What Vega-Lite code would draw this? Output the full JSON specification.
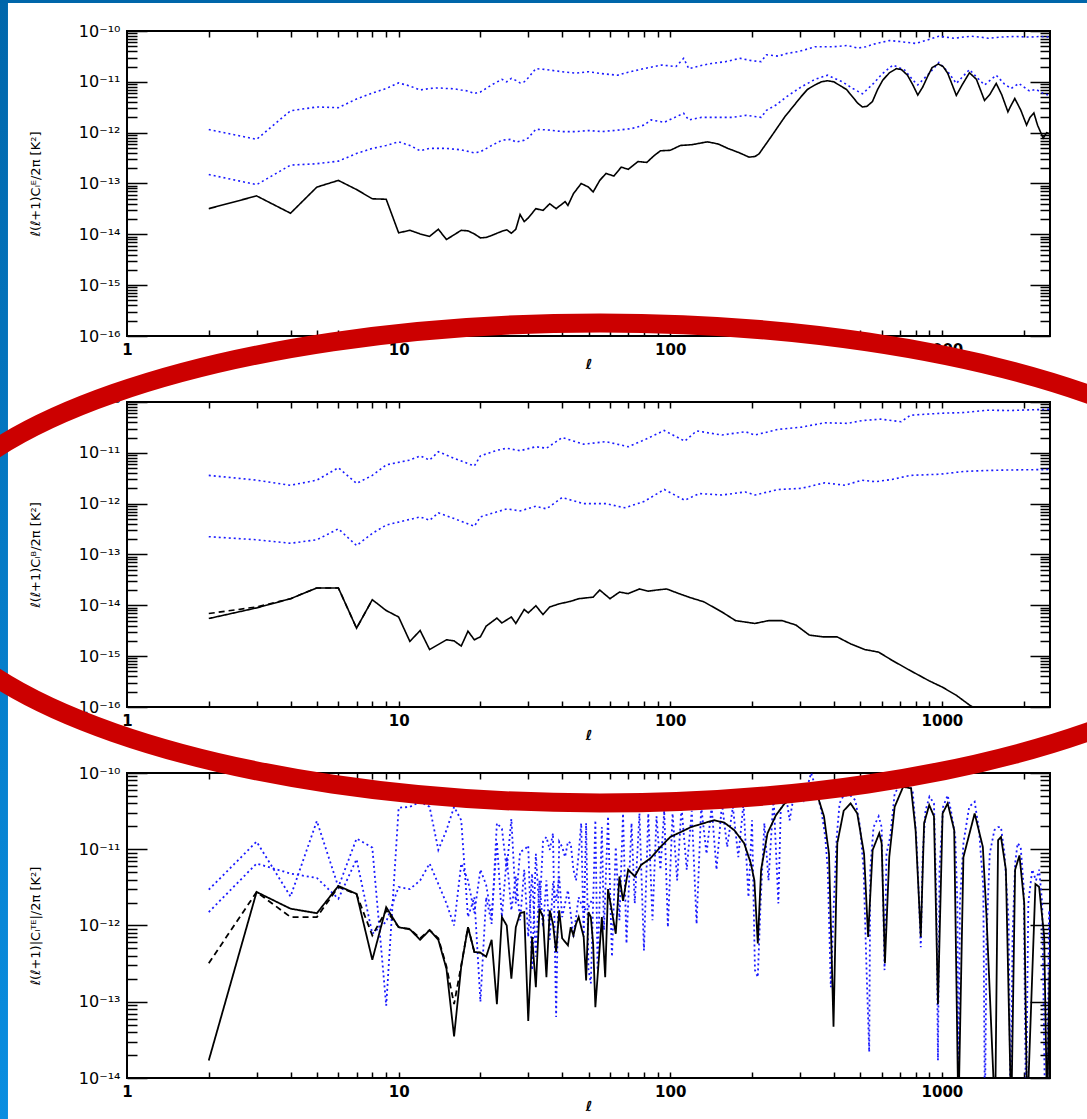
{
"$schema":"https://vega.github.io/schema/vega-lite/v6.json",
"autosize":{"type":"none"},
"padding":{"left":127,"top":31,"right":960,"bottom":1088},
"background":"white",
"bounds":"flush",
"spacing":66,
"config":{"view":{"stroke":"black","strokeWidth":2},"axis":{"grid":false,"domain":false,"labelColor":"black","tickColor":"black","titleColor":"black","labelFont":"DejaVu Sans","titleFont":"DejaVu Sans"}},
"datasets":{
"p1":[
{"s":"n1","l":2,"v":1.15e-12},{"s":"n1","l":3,"v":7.4e-13},{"s":"n1","l":4,"v":2.7e-12},{"s":"n1","l":5,"v":3.2e-12},{"s":"n1","l":6,"v":3.1e-12},{"s":"n1","l":7,"v":4.6e-12},{"s":"n1","l":8,"v":6.0e-12},{"s":"n1","l":9,"v":7.4e-12},{"s":"n1","l":10,"v":9.5e-12},{"s":"n1","l":11,"v":8.3e-12},{"s":"n1","l":12,"v":6.9e-12},{"s":"n1","l":13,"v":7.4e-12},{"s":"n1","l":14,"v":7.6e-12},{"s":"n1","l":15,"v":7.4e-12},{"s":"n1","l":16,"v":7.3e-12},{"s":"n1","l":17,"v":6.9e-12},{"s":"n1","l":18,"v":6.6e-12},{"s":"n1","l":19,"v":5.9e-12},{"s":"n1","l":20,"v":6.3e-12},{"s":"n1","l":22,"v":8.7e-12},{"s":"n1","l":24,"v":1.12e-11},{"s":"n1","l":25,"v":1.0e-11},{"s":"n1","l":26,"v":1.17e-11},{"s":"n1","l":27,"v":1.07e-11},{"s":"n1","l":28,"v":9.5e-12},{"s":"n1","l":29,"v":1.0e-11},{"s":"n1","l":30,"v":1.2e-11},{"s":"n1","l":32,"v":1.82e-11},{"s":"n1","l":35,"v":1.74e-11},{"s":"n1","l":40,"v":1.58e-11},{"s":"n1","l":45,"v":1.48e-11},{"s":"n1","l":50,"v":1.58e-11},{"s":"n1","l":56,"v":1.45e-11},{"s":"n1","l":64,"v":1.35e-11},{"s":"n1","l":70,"v":1.55e-11},{"s":"n1","l":80,"v":1.82e-11},{"s":"n1","l":93,"v":2.14e-11},{"s":"n1","l":105,"v":2.0e-11},{"s":"n1","l":112,"v":2.9e-11},{"s":"n1","l":117,"v":1.82e-11},{"s":"n1","l":130,"v":2.1e-11},{"s":"n1","l":142,"v":2.3e-11},{"s":"n1","l":160,"v":2.5e-11},{"s":"n1","l":181,"v":2.9e-11},{"s":"n1","l":200,"v":2.6e-11},{"s":"n1","l":216,"v":2.5e-11},{"s":"n1","l":226,"v":3.4e-11},{"s":"n1","l":250,"v":3.2e-11},{"s":"n1","l":268,"v":3.6e-11},{"s":"n1","l":300,"v":4.0e-11},{"s":"n1","l":341,"v":4.9e-11},{"s":"n1","l":400,"v":4.9e-11},{"s":"n1","l":450,"v":5.2e-11},{"s":"n1","l":490,"v":4.6e-11},{"s":"n1","l":525,"v":4.9e-11},{"s":"n1","l":560,"v":5.5e-11},{"s":"n1","l":640,"v":6.5e-11},{"s":"n1","l":700,"v":6.2e-11},{"s":"n1","l":800,"v":5.7e-11},{"s":"n1","l":880,"v":6.6e-11},{"s":"n1","l":975,"v":7.9e-11},{"s":"n1","l":1050,"v":7.5e-11},{"s":"n1","l":1112,"v":7.2e-11},{"s":"n1","l":1200,"v":7.6e-11},{"s":"n1","l":1280,"v":7.9e-11},{"s":"n1","l":1380,"v":7.6e-11},{"s":"n1","l":1480,"v":7.2e-11},{"s":"n1","l":1650,"v":7.6e-11},{"s":"n1","l":1855,"v":7.8e-11},{"s":"n1","l":2100,"v":7.6e-11},{"s":"n1","l":2300,"v":7.8e-11},{"s":"n1","l":2500,"v":7.6e-11},
{"s":"n2","l":2,"v":1.5e-13},{"s":"n2","l":3,"v":9.5e-14},{"s":"n2","l":4,"v":2.3e-13},{"s":"n2","l":5,"v":2.45e-13},{"s":"n2","l":6,"v":2.75e-13},{"s":"n2","l":7,"v":3.9e-13},{"s":"n2","l":8,"v":4.9e-13},{"s":"n2","l":9,"v":5.6e-13},{"s":"n2","l":10,"v":6.6e-13},{"s":"n2","l":11,"v":5.6e-13},{"s":"n2","l":12,"v":4.4e-13},{"s":"n2","l":13,"v":4.9e-13},{"s":"n2","l":15,"v":4.9e-13},{"s":"n2","l":17,"v":4.6e-13},{"s":"n2","l":19,"v":4.0e-13},{"s":"n2","l":20,"v":4.2e-13},{"s":"n2","l":22,"v":5.6e-13},{"s":"n2","l":24,"v":7.1e-13},{"s":"n2","l":26,"v":7.4e-13},{"s":"n2","l":27,"v":6.5e-13},{"s":"n2","l":29,"v":7.1e-13},{"s":"n2","l":30,"v":7.9e-13},{"s":"n2","l":32,"v":1.17e-12},{"s":"n2","l":36,"v":1.12e-12},{"s":"n2","l":40,"v":1.05e-12},{"s":"n2","l":45,"v":1.05e-12},{"s":"n2","l":50,"v":1.1e-12},{"s":"n2","l":56,"v":1.05e-12},{"s":"n2","l":64,"v":1.12e-12},{"s":"n2","l":72,"v":1.2e-12},{"s":"n2","l":80,"v":1.41e-12},{"s":"n2","l":85,"v":1.78e-12},{"s":"n2","l":95,"v":1.6e-12},{"s":"n2","l":112,"v":2.4e-12},{"s":"n2","l":117,"v":1.78e-12},{"s":"n2","l":130,"v":2.0e-12},{"s":"n2","l":142,"v":2.0e-12},{"s":"n2","l":170,"v":2.0e-12},{"s":"n2","l":190,"v":2.2e-12},{"s":"n2","l":216,"v":2.0e-12},{"s":"n2","l":226,"v":2.75e-12},{"s":"n2","l":245,"v":3.5e-12},{"s":"n2","l":268,"v":5.1e-12},{"s":"n2","l":303,"v":7.9e-12},{"s":"n2","l":341,"v":1.12e-11},{"s":"n2","l":379,"v":1.35e-11},{"s":"n2","l":430,"v":1.0e-11},{"s":"n2","l":470,"v":7.4e-12},{"s":"n2","l":510,"v":5.8e-12},{"s":"n2","l":560,"v":9.3e-12},{"s":"n2","l":600,"v":1.4e-11},{"s":"n2","l":660,"v":2.14e-11},{"s":"n2","l":730,"v":1.7e-11},{"s":"n2","l":780,"v":1.1e-11},{"s":"n2","l":815,"v":8.7e-12},{"s":"n2","l":890,"v":1.4e-11},{"s":"n2","l":975,"v":2.4e-11},{"s":"n2","l":1050,"v":1.6e-11},{"s":"n2","l":1130,"v":9.3e-12},{"s":"n2","l":1263,"v":1.74e-11},{"s":"n2","l":1350,"v":1.2e-11},{"s":"n2","l":1435,"v":8.7e-12},{"s":"n2","l":1585,"v":1.35e-11},{"s":"n2","l":1700,"v":9.0e-12},{"s":"n2","l":1800,"v":7.4e-12},{"s":"n2","l":1920,"v":9.3e-12},{"s":"n2","l":2100,"v":6.6e-12},{"s":"n2","l":2220,"v":7.1e-12},{"s":"n2","l":2350,"v":6.0e-12},{"s":"n2","l":2460,"v":5.5e-12},{"s":"n2","l":2500,"v":5.6e-12},
{"s":"cl","l":2,"v":3.2e-14},{"s":"cl","l":3,"v":5.7e-14},{"s":"cl","l":4,"v":2.6e-14},{"s":"cl","l":5,"v":8.5e-14},{"s":"cl","l":6,"v":1.15e-13},{"s":"cl","l":7,"v":7.6e-14},{"s":"cl","l":8,"v":5.0e-14},{"s":"cl","l":9,"v":4.9e-14},{"s":"cl","l":10,"v":1.07e-14},{"s":"cl","l":11,"v":1.2e-14},{"s":"cl","l":12,"v":1.02e-14},{"s":"cl","l":13,"v":9.1e-15},{"s":"cl","l":14,"v":1.26e-14},{"s":"cl","l":15,"v":7.9e-15},{"s":"cl","l":16,"v":9.8e-15},{"s":"cl","l":17,"v":1.2e-14},{"s":"cl","l":18,"v":1.17e-14},{"s":"cl","l":19,"v":1.02e-14},{"s":"cl","l":20,"v":8.5e-15},{"s":"cl","l":21,"v":8.7e-15},{"s":"cl","l":22,"v":9.5e-15},{"s":"cl","l":23,"v":1.05e-14},{"s":"cl","l":24,"v":1.15e-14},{"s":"cl","l":25,"v":1.23e-14},{"s":"cl","l":26,"v":1.05e-14},{"s":"cl","l":27,"v":1.26e-14},{"s":"cl","l":28,"v":2.45e-14},{"s":"cl","l":29,"v":1.78e-14},{"s":"cl","l":30,"v":2.1e-14},{"s":"cl","l":32,"v":3.2e-14},{"s":"cl","l":34,"v":2.95e-14},{"s":"cl","l":36,"v":4.0e-14},{"s":"cl","l":38,"v":3.2e-14},{"s":"cl","l":41,"v":4.4e-14},{"s":"cl","l":42,"v":3.7e-14},{"s":"cl","l":44,"v":6.3e-14},{"s":"cl","l":47,"v":1.0e-13},{"s":"cl","l":50,"v":8.5e-14},{"s":"cl","l":52,"v":6.8e-14},{"s":"cl","l":55,"v":1.15e-13},{"s":"cl","l":58,"v":1.58e-13},{"s":"cl","l":62,"v":1.4e-13},{"s":"cl","l":66,"v":2.1e-13},{"s":"cl","l":70,"v":1.9e-13},{"s":"cl","l":76,"v":2.7e-13},{"s":"cl","l":82,"v":2.6e-13},{"s":"cl","l":87,"v":3.5e-13},{"s":"cl","l":92,"v":4.4e-13},{"s":"cl","l":100,"v":4.5e-13},{"s":"cl","l":109,"v":5.6e-13},{"s":"cl","l":120,"v":5.8e-13},{"s":"cl","l":137,"v":6.6e-13},{"s":"cl","l":150,"v":6.0e-13},{"s":"cl","l":163,"v":4.9e-13},{"s":"cl","l":180,"v":4.0e-13},{"s":"cl","l":195,"v":3.3e-13},{"s":"cl","l":205,"v":3.4e-13},{"s":"cl","l":212,"v":3.8e-13},{"s":"cl","l":235,"v":8.3e-13},{"s":"cl","l":264,"v":2.05e-12},{"s":"cl","l":303,"v":5.1e-12},{"s":"cl","l":320,"v":7.1e-12},{"s":"cl","l":341,"v":8.7e-12},{"s":"cl","l":360,"v":1.0e-11},{"s":"cl","l":379,"v":1.05e-11},{"s":"cl","l":400,"v":1.0e-11},{"s":"cl","l":424,"v":8.3e-12},{"s":"cl","l":445,"v":7.1e-12},{"s":"cl","l":463,"v":5.5e-12},{"s":"cl","l":490,"v":3.8e-12},{"s":"cl","l":510,"v":3.2e-12},{"s":"cl","l":530,"v":3.3e-12},{"s":"cl","l":555,"v":4.1e-12},{"s":"cl","l":580,"v":7.1e-12},{"s":"cl","l":605,"v":1.07e-11},{"s":"cl","l":640,"v":1.5e-11},{"s":"cl","l":680,"v":1.82e-11},{"s":"cl","l":710,"v":1.74e-11},{"s":"cl","l":747,"v":1.35e-11},{"s":"cl","l":780,"v":8.9e-12},{"s":"cl","l":815,"v":5.5e-12},{"s":"cl","l":850,"v":7.9e-12},{"s":"cl","l":885,"v":1.26e-11},{"s":"cl","l":920,"v":1.9e-11},{"s":"cl","l":970,"v":2.24e-11},{"s":"cl","l":1010,"v":2.0e-11},{"s":"cl","l":1050,"v":1.48e-11},{"s":"cl","l":1090,"v":8.9e-12},{"s":"cl","l":1130,"v":5.4e-12},{"s":"cl","l":1190,"v":8.9e-12},{"s":"cl","l":1263,"v":1.51e-11},{"s":"cl","l":1340,"v":1.12e-11},{"s":"cl","l":1435,"v":4.3e-12},{"s":"cl","l":1500,"v":5.6e-12},{"s":"cl","l":1585,"v":9.3e-12},{"s":"cl","l":1660,"v":5.6e-12},{"s":"cl","l":1750,"v":2.57e-12},{"s":"cl","l":1800,"v":3.5e-12},{"s":"cl","l":1855,"v":4.7e-12},{"s":"cl","l":1950,"v":2.8e-12},{"s":"cl","l":2050,"v":1.41e-12},{"s":"cl","l":2110,"v":2.0e-12},{"s":"cl","l":2180,"v":2.45e-12},{"s":"cl","l":2250,"v":1.4e-12},{"s":"cl","l":2360,"v":7.8e-13},{"s":"cl","l":2430,"v":1.0e-12},{"s":"cl","l":2500,"v":9.5e-13}
],
"p2":[
{"s":"n1","l":2,"v":3.6e-12},{"s":"n1","l":3,"v":2.9e-12},{"s":"n1","l":4,"v":2.3e-12},{"s":"n1","l":5,"v":2.9e-12},{"s":"n1","l":6,"v":5.1e-12},{"s":"n1","l":7,"v":2.5e-12},{"s":"n1","l":8,"v":3.6e-12},{"s":"n1","l":9,"v":5.8e-12},{"s":"n1","l":11,"v":7.2e-12},{"s":"n1","l":12,"v":8.7e-12},{"s":"n1","l":13,"v":7.2e-12},{"s":"n1","l":14,"v":1.05e-11},{"s":"n1","l":16,"v":7.8e-12},{"s":"n1","l":19,"v":5.5e-12},{"s":"n1","l":20,"v":8.7e-12},{"s":"n1","l":23,"v":1.12e-11},{"s":"n1","l":25,"v":1.23e-11},{"s":"n1","l":28,"v":1.1e-11},{"s":"n1","l":32,"v":1.32e-11},{"s":"n1","l":35,"v":1.23e-11},{"s":"n1","l":40,"v":2.0e-11},{"s":"n1","l":48,"v":1.48e-11},{"s":"n1","l":58,"v":1.66e-11},{"s":"n1","l":70,"v":1.32e-11},{"s":"n1","l":80,"v":1.78e-11},{"s":"n1","l":95,"v":2.75e-11},{"s":"n1","l":113,"v":1.7e-11},{"s":"n1","l":125,"v":2.7e-11},{"s":"n1","l":155,"v":2.24e-11},{"s":"n1","l":189,"v":2.6e-11},{"s":"n1","l":205,"v":2.24e-11},{"s":"n1","l":250,"v":2.9e-11},{"s":"n1","l":304,"v":3.2e-11},{"s":"n1","l":370,"v":3.9e-11},{"s":"n1","l":450,"v":3.8e-11},{"s":"n1","l":507,"v":4.3e-11},{"s":"n1","l":593,"v":4.6e-11},{"s":"n1","l":708,"v":4.1e-11},{"s":"n1","l":766,"v":5.5e-11},{"s":"n1","l":988,"v":6.0e-11},{"s":"n1","l":1203,"v":6.2e-11},{"s":"n1","l":1465,"v":6.9e-11},{"s":"n1","l":1783,"v":6.8e-11},{"s":"n1","l":2100,"v":7.0e-11},{"s":"n1","l":2500,"v":7.2e-11},
{"s":"n2","l":2,"v":2.24e-13},{"s":"n2","l":3,"v":1.95e-13},{"s":"n2","l":4,"v":1.66e-13},{"s":"n2","l":5,"v":1.95e-13},{"s":"n2","l":6,"v":3.2e-13},{"s":"n2","l":7,"v":1.5e-13},{"s":"n2","l":8,"v":2.6e-13},{"s":"n2","l":9,"v":3.8e-13},{"s":"n2","l":11,"v":4.9e-13},{"s":"n2","l":12,"v":5.5e-13},{"s":"n2","l":13,"v":4.7e-13},{"s":"n2","l":14,"v":6.6e-13},{"s":"n2","l":16,"v":5.1e-13},{"s":"n2","l":19,"v":3.6e-13},{"s":"n2","l":20,"v":5.5e-13},{"s":"n2","l":23,"v":6.9e-13},{"s":"n2","l":25,"v":7.9e-13},{"s":"n2","l":28,"v":7.2e-13},{"s":"n2","l":32,"v":8.9e-13},{"s":"n2","l":35,"v":7.9e-13},{"s":"n2","l":40,"v":1.32e-12},{"s":"n2","l":48,"v":1.0e-12},{"s":"n2","l":58,"v":1.0e-12},{"s":"n2","l":68,"v":8.3e-13},{"s":"n2","l":80,"v":1.1e-12},{"s":"n2","l":95,"v":1.9e-12},{"s":"n2","l":113,"v":1.17e-12},{"s":"n2","l":128,"v":1.58e-12},{"s":"n2","l":155,"v":1.48e-12},{"s":"n2","l":189,"v":1.7e-12},{"s":"n2","l":205,"v":1.48e-12},{"s":"n2","l":250,"v":1.9e-12},{"s":"n2","l":304,"v":2.0e-12},{"s":"n2","l":370,"v":2.57e-12},{"s":"n2","l":440,"v":2.3e-12},{"s":"n2","l":507,"v":2.9e-12},{"s":"n2","l":570,"v":2.7e-12},{"s":"n2","l":655,"v":3.0e-12},{"s":"n2","l":766,"v":3.6e-12},{"s":"n2","l":988,"v":3.8e-12},{"s":"n2","l":1203,"v":4.3e-12},{"s":"n2","l":1465,"v":4.5e-12},{"s":"n2","l":1783,"v":4.6e-12},{"s":"n2","l":2500,"v":4.7e-12},
{"s":"cl2","l":2,"v":6.9e-15},{"s":"cl2","l":3,"v":9.3e-15},{"s":"cl2","l":4,"v":1.35e-14},{"s":"cl2","l":5,"v":2.2e-14},{"s":"cl2","l":6,"v":2.2e-14},{"s":"cl2","l":7,"v":3.55e-15},{"s":"cl2","l":8,"v":1.29e-14},
{"s":"cl","l":2,"v":5.5e-15},{"s":"cl","l":3,"v":8.9e-15},{"s":"cl","l":4,"v":1.35e-14},{"s":"cl","l":5,"v":2.2e-14},{"s":"cl","l":6,"v":2.2e-14},{"s":"cl","l":7,"v":3.55e-15},{"s":"cl","l":8,"v":1.29e-14},{"s":"cl","l":9,"v":7.9e-15},{"s":"cl","l":10,"v":5.9e-15},{"s":"cl","l":11,"v":1.95e-15},{"s":"cl","l":12,"v":3.2e-15},{"s":"cl","l":13,"v":1.35e-15},{"s":"cl","l":15,"v":2.1e-15},{"s":"cl","l":16,"v":2.0e-15},{"s":"cl","l":17,"v":1.58e-15},{"s":"cl","l":18,"v":3.1e-15},{"s":"cl","l":19,"v":2.1e-15},{"s":"cl","l":20,"v":2.4e-15},{"s":"cl","l":21,"v":3.9e-15},{"s":"cl","l":23,"v":5.6e-15},{"s":"cl","l":24,"v":4.5e-15},{"s":"cl","l":26,"v":5.9e-15},{"s":"cl","l":27,"v":4.4e-15},{"s":"cl","l":29,"v":8.3e-15},{"s":"cl","l":30,"v":7.1e-15},{"s":"cl","l":32,"v":9.8e-15},{"s":"cl","l":34,"v":6.6e-15},{"s":"cl","l":36,"v":9.3e-15},{"s":"cl","l":39,"v":1.07e-14},{"s":"cl","l":43,"v":1.2e-14},{"s":"cl","l":46,"v":1.35e-14},{"s":"cl","l":52,"v":1.45e-14},{"s":"cl","l":55,"v":2.0e-14},{"s":"cl","l":60,"v":1.35e-14},{"s":"cl","l":65,"v":1.82e-14},{"s":"cl","l":70,"v":1.7e-14},{"s":"cl","l":77,"v":2.1e-14},{"s":"cl","l":83,"v":1.9e-14},{"s":"cl","l":89,"v":2.0e-14},{"s":"cl","l":97,"v":2.1e-14},{"s":"cl","l":104,"v":1.82e-14},{"s":"cl","l":117,"v":1.45e-14},{"s":"cl","l":133,"v":1.17e-14},{"s":"cl","l":155,"v":7.4e-15},{"s":"cl","l":174,"v":5.0e-15},{"s":"cl","l":205,"v":4.4e-15},{"s":"cl","l":230,"v":5.0e-15},{"s":"cl","l":258,"v":5.0e-15},{"s":"cl","l":290,"v":4.1e-15},{"s":"cl","l":325,"v":2.6e-15},{"s":"cl","l":365,"v":2.4e-15},{"s":"cl","l":411,"v":2.4e-15},{"s":"cl","l":462,"v":1.74e-15},{"s":"cl","l":520,"v":1.35e-15},{"s":"cl","l":585,"v":1.2e-15},{"s":"cl","l":655,"v":8.3e-16},{"s":"cl","l":765,"v":5.2e-16},{"s":"cl","l":895,"v":3.3e-16},{"s":"cl","l":1005,"v":2.45e-16},{"s":"cl","l":1130,"v":1.7e-16},{"s":"cl","l":1270,"v":1.07e-16},{"s":"cl","l":1500,"v":6.3e-17},{"s":"cl","l":2000,"v":2.5e-17},{"s":"cl","l":2500,"v":1e-17}
],
"p3":[
{"s":"n2","l":2,"v":1.5e-12},{"s":"n2","l":3,"v":6.5e-12},{"s":"n2","l":4,"v":4.8e-12},{"s":"n2","l":5,"v":4.2e-12},{"s":"n2","l":6,"v":2.24e-12},{"s":"n2","l":7,"v":7.4e-12},{"s":"n2","l":8,"v":7.8e-13},{"s":"n2","l":9,"v":1.12e-12},{"s":"n2","l":10,"v":3.2e-12},{"s":"n2","l":11,"v":3.0e-12},{"s":"n2","l":12,"v":3.9e-12},{"s":"n2","l":13,"v":6.5e-12},{"s":"n2","l":14,"v":3.5e-12},{"s":"n2","l":15,"v":1.95e-12},{"s":"n2","l":16,"v":1.0e-12},{"s":"n2","l":17,"v":6.5e-12},{"s":"n2","l":18,"v":3.9e-12},{"s":"n2","l":19,"v":1.45e-12},{"s":"n2","l":20,"v":5.4e-12},{"s":"n2","l":21,"v":3.4e-12},{"s":"n2","l":22,"v":1.29e-12},{"s":"n2","l":23,"v":1.26e-11},{"s":"n2","l":24,"v":1.29e-12},{"s":"n2","l":25,"v":7.9e-12},{"s":"n2","l":26,"v":1.58e-12},{"s":"n2","l":27,"v":4.4e-12},{"s":"n2","l":28,"v":1.17e-12},{"s":"n2","l":29,"v":5.4e-12},{"s":"n2","l":30,"v":7.1e-13},{"s":"n2","l":31,"v":4.8e-12},{"s":"n2","l":32,"v":3.9e-13},{"s":"n2","l":33,"v":3.9e-12},{"s":"n2","l":34,"v":9.5e-13},{"s":"n2","l":35,"v":3.9e-12},{"s":"n2","l":36,"v":6.5e-13},{"s":"n2","l":37,"v":3.6e-12},{"s":"n2","l":38,"v":2.1e-12},{"s":"n2","l":39,"v":4.4e-12},{"s":"n2","l":40,"v":1.29e-12},{"s":"n2","l":42,"v":2.9e-12},{"s":"n2","l":44,"v":7.1e-13},{"s":"n2","l":46,"v":2.35e-12},{"s":"n2","l":48,"v":1.58e-12},{"s":"n2","l":50,"v":1.74e-12},{"s":"n2","l":52,"v":2.35e-12},
{"s":"n1","l":2,"v":2.95e-12},{"s":"n1","l":3,"v":1.26e-11},{"s":"n1","l":4,"v":2.4e-12},{"s":"n1","l":5,"v":2.35e-11},{"s":"n1","l":6,"v":3.2e-12},{"s":"n1","l":7,"v":1.38e-11},{"s":"n1","l":8,"v":1.05e-11},{"s":"n1","l":9,"v":8.9e-14},{"s":"n1","l":10,"v":3.5e-11},{"s":"n1","l":11,"v":3.6e-11},{"s":"n1","l":12,"v":4.2e-11},{"s":"n1","l":13,"v":3.6e-11},{"s":"n1","l":14,"v":9.8e-12},{"s":"n1","l":15,"v":1.78e-11},{"s":"n1","l":16,"v":3.6e-11},{"s":"n1","l":17,"v":2.4e-11},{"s":"n1","l":18,"v":1.29e-12},{"s":"n1","l":19,"v":2.35e-12},{"s":"n1","l":20,"v":1.0e-13},{"s":"n1","l":21,"v":2.35e-12},{"s":"n1","l":22,"v":1.05e-12},{"s":"n1","l":23,"v":2.2e-11},{"s":"n1","l":24,"v":1.86e-11},{"s":"n1","l":25,"v":5.4e-12},{"s":"n1","l":26,"v":2.5e-11},{"s":"n1","l":27,"v":1.95e-12},{"s":"n1","l":28,"v":9.3e-12},{"s":"n1","l":29,"v":9.8e-12},{"s":"n1","l":30,"v":1.12e-11},{"s":"n1","l":31,"v":2.6e-13},{"s":"n1","l":32,"v":8.7e-12},{"s":"n1","l":33,"v":1.45e-12},{"s":"n1","l":34,"v":1.26e-11},{"s":"n1","l":35,"v":1.45e-11},{"s":"n1","l":36,"v":9.8e-12},{"s":"n1","l":37,"v":1.62e-11},{"s":"n1","l":38,"v":6.3e-14},{"s":"n1","l":39,"v":1.26e-11},{"s":"n1","l":40,"v":1.07e-11},{"s":"n1","l":41,"v":7.9e-12},{"s":"n1","l":42,"v":1.26e-11},{"s":"n1","l":43,"v":1.2e-11},{"s":"n1","l":44,"v":5.4e-12},{"s":"n1","l":45,"v":3.9e-12},{"s":"n1","l":46,"v":8.7e-12},{"s":"n1","l":47,"v":2.2e-11},{"s":"n1","l":48,"v":7.1e-13},{"s":"n1","l":49,"v":2.2e-11},{"s":"n1","l":50,"v":2.6e-13},{"s":"n1","l":51,"v":1.74e-13},{"s":"n1","l":52,"v":1.95e-12},{"s":"n1","l":53,"v":2.4e-11},{"s":"n1","l":54,"v":2.6e-13},{"s":"n1","l":56,"v":1.95e-11},{"s":"n1","l":57,"v":8.7e-13},{"s":"n1","l":59,"v":2.7e-11},{"s":"n1","l":61,"v":3.9e-13},{"s":"n1","l":63,"v":1.07e-11},{"s":"n1","l":65,"v":1.17e-12},{"s":"n1","l":67,"v":2.95e-11},{"s":"n1","l":69,"v":5.8e-13},{"s":"n1","l":72,"v":2.2e-11},{"s":"n1","l":74,"v":1.95e-12},{"s":"n1","l":77,"v":2.95e-11},{"s":"n1","l":80,"v":4.7e-13},{"s":"n1","l":83,"v":2.95e-11},{"s":"n1","l":86,"v":1.17e-12},{"s":"n1","l":89,"v":2.7e-11},{"s":"n1","l":92,"v":5.4e-12},{"s":"n1","l":95,"v":3.2e-11},{"s":"n1","l":98,"v":9.5e-13},{"s":"n1","l":102,"v":2.95e-11},{"s":"n1","l":106,"v":3.9e-12},{"s":"n1","l":110,"v":3.6e-11},{"s":"n1","l":115,"v":5.4e-12},{"s":"n1","l":120,"v":3.2e-11},{"s":"n1","l":125,"v":1.05e-12},{"s":"n1","l":130,"v":3.6e-11},{"s":"n1","l":136,"v":8.7e-12},{"s":"n1","l":142,"v":3.6e-11},{"s":"n1","l":148,"v":5.4e-12},{"s":"n1","l":155,"v":4.0e-11},{"s":"n1","l":162,"v":1.07e-11},{"s":"n1","l":170,"v":3.6e-11},{"s":"n1","l":178,"v":7.9e-12},{"s":"n1","l":186,"v":4.0e-11},{"s":"n1","l":194,"v":2.35e-12},{"s":"n1","l":200,"v":2.4e-11},{"s":"n1","l":205,"v":2.6e-13},{"s":"n1","l":210,"v":2.1e-13},{"s":"n1","l":215,"v":1.95e-12},{"s":"n1","l":222,"v":2.2e-11},{"s":"n1","l":230,"v":3.9e-12},{"s":"n1","l":240,"v":4.9e-11},{"s":"n1","l":250,"v":1.95e-12},{"s":"n1","l":255,"v":3.2e-11},{"s":"n1","l":265,"v":6.0e-11},{"s":"n1","l":275,"v":2.4e-11},{"s":"n1","l":290,"v":7.3e-11},{"s":"n1","l":310,"v":4.4e-11},{"s":"n1","l":330,"v":1.0e-10},{"s":"n1","l":345,"v":6.0e-11},{"s":"n1","l":360,"v":3.2e-11},{"s":"n1","l":372,"v":1.45e-11},{"s":"n1","l":380,"v":5.4e-12},{"s":"n1","l":390,"v":1.55e-13},{"s":"n1","l":400,"v":1.95e-12},{"s":"n1","l":410,"v":1.45e-11},{"s":"n1","l":420,"v":4.0e-11},{"s":"n1","l":435,"v":5.1e-11},{"s":"n1","l":460,"v":5.1e-11},{"s":"n1","l":480,"v":4.4e-11},{"s":"n1","l":500,"v":1.95e-11},{"s":"n1","l":515,"v":5.4e-12},{"s":"n1","l":528,"v":2.6e-13},{"s":"n1","l":540,"v":2.2e-14},{"s":"n1","l":545,"v":5.4e-12},{"s":"n1","l":560,"v":1.95e-11},{"s":"n1","l":585,"v":2.7e-11},{"s":"n1","l":600,"v":1.95e-11},{"s":"n1","l":615,"v":2.6e-13},{"s":"n1","l":625,"v":8.7e-12},{"s":"n1","l":645,"v":1.45e-11},{"s":"n1","l":670,"v":5.4e-11},{"s":"n1","l":700,"v":6.9e-11},{"s":"n1","l":740,"v":7.3e-11},{"s":"n1","l":780,"v":6.0e-11},{"s":"n1","l":805,"v":1.45e-11},{"s":"n1","l":820,"v":3.2e-12},{"s":"n1","l":836,"v":5.2e-13},{"s":"n1","l":850,"v":8.7e-12},{"s":"n1","l":870,"v":3.2e-11},{"s":"n1","l":900,"v":4.9e-11},{"s":"n1","l":935,"v":4.0e-11},{"s":"n1","l":955,"v":1.95e-12},{"s":"n1","l":967,"v":1.7e-14},{"s":"n1","l":980,"v":5.4e-12},{"s":"n1","l":1010,"v":3.6e-11},{"s":"n1","l":1050,"v":5.1e-11},{"s":"n1","l":1080,"v":3.2e-11},{"s":"n1","l":1120,"v":1.45e-11},{"s":"n1","l":1140,"v":1.95e-12},{"s":"n1","l":1150,"v":3e-15},{"s":"n1","l":1165,"v":1.95e-12},{"s":"n1","l":1200,"v":1.2e-11},{"s":"n1","l":1260,"v":3.6e-11},{"s":"n1","l":1320,"v":4.2e-11},{"s":"n1","l":1370,"v":1.78e-11},{"s":"n1","l":1420,"v":3.2e-12},{"s":"n1","l":1440,"v":3e-15},{"s":"n1","l":1460,"v":7.1e-13},{"s":"n1","l":1500,"v":8.7e-12},{"s":"n1","l":1560,"v":1.78e-11},{"s":"n1","l":1610,"v":1.95e-11},{"s":"n1","l":1650,"v":1.95e-11},{"s":"n1","l":1700,"v":8.7e-12},{"s":"n1","l":1760,"v":1.17e-12},{"s":"n1","l":1790,"v":3e-15},{"s":"n1","l":1820,"v":7.1e-13},{"s":"n1","l":1860,"v":6.5e-12},{"s":"n1","l":1900,"v":1.2e-11},{"s":"n1","l":1950,"v":1.07e-11},{"s":"n1","l":2000,"v":3.2e-12},{"s":"n1","l":2040,"v":3e-15},{"s":"n1","l":2080,"v":1.95e-12},{"s":"n1","l":2150,"v":5.4e-12},{"s":"n1","l":2220,"v":3.9e-12},{"s":"n1","l":2280,"v":5.4e-12},{"s":"n1","l":2340,"v":1.95e-12},{"s":"n1","l":2400,"v":3e-15},{"s":"n1","l":2440,"v":3e-15},{"s":"n1","l":2480,"v":1.58e-12},{"s":"n1","l":2500,"v":1.17e-12},
{"s":"cl2","l":2,"v":3.2e-13},{"s":"cl2","l":3,"v":2.75e-12},{"s":"cl2","l":4,"v":1.29e-12},{"s":"cl2","l":5,"v":1.29e-12},{"s":"cl2","l":6,"v":3.2e-12},{"s":"cl2","l":7,"v":2.57e-12},{"s":"cl2","l":8,"v":7.4e-13},{"s":"cl2","l":9,"v":1.58e-12},{"s":"cl2","l":10,"v":9.5e-13},{"s":"cl2","l":11,"v":9.0e-13},{"s":"cl2","l":12,"v":6.8e-13},{"s":"cl2","l":13,"v":8.7e-13},{"s":"cl2","l":14,"v":6.8e-13},{"s":"cl2","l":15,"v":2.9e-13},{"s":"cl2","l":16,"v":9.3e-14},{"s":"cl2","l":17,"v":3.0e-13},{"s":"cl2","l":18,"v":9.5e-13},{"s":"cl2","l":19,"v":4.5e-13},{"s":"cl2","l":20,"v":4.4e-13},
{"s":"cl","l":2,"v":1.7e-14},{"s":"cl","l":3,"v":2.75e-12},{"s":"cl","l":4,"v":1.66e-12},{"s":"cl","l":5,"v":1.45e-12},{"s":"cl","l":6,"v":3.3e-12},{"s":"cl","l":7,"v":2.6e-12},{"s":"cl","l":8,"v":3.55e-13},{"s":"cl","l":9,"v":1.74e-12},{"s":"cl","l":10,"v":9.5e-13},{"s":"cl","l":11,"v":8.9e-13},{"s":"cl","l":12,"v":6.5e-13},{"s":"cl","l":13,"v":8.7e-13},{"s":"cl","l":14,"v":6.5e-13},{"s":"cl","l":15,"v":2.7e-13},{"s":"cl","l":16,"v":3.5e-14},{"s":"cl","l":17,"v":2.9e-13},{"s":"cl","l":18,"v":9.5e-13},{"s":"cl","l":19,"v":4.5e-13},{"s":"cl","l":20,"v":4.4e-13},{"s":"cl","l":21,"v":3.9e-13},{"s":"cl","l":22,"v":6.5e-13},{"s":"cl","l":23,"v":9.3e-14},{"s":"cl","l":24,"v":1.29e-12},{"s":"cl","l":25,"v":1.0e-12},{"s":"cl","l":26,"v":2.0e-13},{"s":"cl","l":27,"v":9.5e-13},{"s":"cl","l":28,"v":1.45e-12},{"s":"cl","l":29,"v":1.5e-12},{"s":"cl","l":30,"v":5.6e-14},{"s":"cl","l":31,"v":7.1e-13},{"s":"cl","l":32,"v":1.55e-13},{"s":"cl","l":33,"v":1.66e-12},{"s":"cl","l":34,"v":1.29e-12},{"s":"cl","l":35,"v":2.1e-13},{"s":"cl","l":36,"v":1.58e-12},{"s":"cl","l":37,"v":1.05e-12},{"s":"cl","l":38,"v":4.5e-13},{"s":"cl","l":39,"v":1.58e-12},{"s":"cl","l":40,"v":6.8e-13},{"s":"cl","l":42,"v":5.5e-13},{"s":"cl","l":43,"v":9.5e-13},{"s":"cl","l":44,"v":7.4e-13},{"s":"cl","l":45,"v":1.05e-12},{"s":"cl","l":46,"v":1.29e-12},{"s":"cl","l":47,"v":9.5e-13},{"s":"cl","l":48,"v":7.1e-13},{"s":"cl","l":49,"v":1.9e-13},{"s":"cl","l":50,"v":1.5e-12},{"s":"cl","l":51,"v":1.29e-12},{"s":"cl","l":52,"v":5.8e-13},{"s":"cl","l":53,"v":8.5e-14},{"s":"cl","l":56,"v":1.29e-12},{"s":"cl","l":57.6,"v":2.1e-13},{"s":"cl","l":59,"v":3.0e-12},{"s":"cl","l":63,"v":7.8e-13},{"s":"cl","l":65,"v":4.4e-12},{"s":"cl","l":67,"v":2.1e-12},{"s":"cl","l":70,"v":5.4e-12},{"s":"cl","l":74,"v":4.4e-12},{"s":"cl","l":78,"v":6.2e-12},{"s":"cl","l":84.5,"v":7.6e-12},{"s":"cl","l":92,"v":1.07e-11},{"s":"cl","l":100,"v":1.45e-11},{"s":"cl","l":110,"v":1.7e-11},{"s":"cl","l":119,"v":1.95e-11},{"s":"cl","l":133,"v":2.2e-11},{"s":"cl","l":145,"v":2.4e-11},{"s":"cl","l":158,"v":2.24e-11},{"s":"cl","l":172,"v":1.78e-11},{"s":"cl","l":187,"v":1.2e-11},{"s":"cl","l":198,"v":6.5e-12},{"s":"cl","l":204,"v":3.9e-12},{"s":"cl","l":210,"v":5.8e-13},{"s":"cl","l":216,"v":5.4e-12},{"s":"cl","l":228,"v":1.62e-11},{"s":"cl","l":245,"v":2.8e-11},{"s":"cl","l":264,"v":4.0e-11},{"s":"cl","l":294,"v":4.9e-11},{"s":"cl","l":330,"v":5.6e-11},{"s":"cl","l":348,"v":5.1e-11},{"s":"cl","l":368,"v":2.7e-11},{"s":"cl","l":384,"v":8.7e-12},{"s":"cl","l":399,"v":4.7e-14},{"s":"cl","l":412,"v":1.2e-11},{"s":"cl","l":435,"v":3.2e-11},{"s":"cl","l":461,"v":4.0e-11},{"s":"cl","l":488,"v":2.95e-11},{"s":"cl","l":517,"v":8.7e-12},{"s":"cl","l":535,"v":7.1e-13},{"s":"cl","l":556,"v":9.8e-12},{"s":"cl","l":588,"v":1.62e-11},{"s":"cl","l":600,"v":1.2e-11},{"s":"cl","l":617,"v":3.2e-13},{"s":"cl","l":640,"v":7.9e-12},{"s":"cl","l":670,"v":3.6e-11},{"s":"cl","l":720,"v":6.6e-11},{"s":"cl","l":770,"v":6.3e-11},{"s":"cl","l":800,"v":1.78e-11},{"s":"cl","l":836,"v":7.1e-13},{"s":"cl","l":860,"v":2.2e-11},{"s":"cl","l":898,"v":3.8e-11},{"s":"cl","l":935,"v":2.7e-11},{"s":"cl","l":967,"v":9.3e-14},{"s":"cl","l":1006,"v":2.95e-11},{"s":"cl","l":1050,"v":4.0e-11},{"s":"cl","l":1110,"v":1.78e-11},{"s":"cl","l":1150,"v":3e-15},{"s":"cl","l":1200,"v":7.9e-12},{"s":"cl","l":1320,"v":2.95e-11},{"s":"cl","l":1415,"v":1.07e-11},{"s":"cl","l":1460,"v":1.29e-12},{"s":"cl","l":1570,"v":3e-15},{"s":"cl","l":1610,"v":1.32e-11},{"s":"cl","l":1650,"v":1.45e-11},{"s":"cl","l":1720,"v":5.4e-12},{"s":"cl","l":1800,"v":3e-15},{"s":"cl","l":1860,"v":5.4e-12},{"s":"cl","l":1930,"v":8.3e-12},{"s":"cl","l":2010,"v":1.95e-12},{"s":"cl","l":2060,"v":3e-15},{"s":"cl","l":2210,"v":3.5e-12},{"s":"cl","l":2280,"v":3.2e-12},{"s":"cl","l":2380,"v":7.1e-13},{"s":"cl","l":2440,"v":3e-15},{"s":"cl","l":2490,"v":2.6e-13}
]
},
"vconcat":[
{
"width":923,"height":305,
"resolve":{"axis":{"x":"independent","y":"independent"}},
"layer":[
{"data":{"values":[{}]},"mark":{"type":"rect","clip":false,"color":{"gradient":"linear","x1":0,"y1":0,"x2":0,"y2":1,"stops":[{"offset":0,"color":"#0066aa"},{"offset":1,"color":"#0a8fe2"}]}},
"encoding":{"x":{"datum":0.3,"type":"quantitative","scale":{"type":"log","domain":[1,2500],"nice":false},"axis":null},"x2":{"datum":0.3646},"y":{"datum":1e-9,"type":"quantitative","scale":{"type":"log","domain":[1e-16,1e-10],"nice":false},"axis":null},"y2":{"datum":1e-32}}},
{"data":{"values":[{}]},"mark":{"type":"rect","clip":false,"color":"#0066aa"},
"encoding":{"x":{"datum":0.3,"type":"quantitative","scale":{"type":"log","domain":[1,2500],"nice":false},"axis":null},"x2":{"datum":5000},"y":{"datum":1e-9,"type":"quantitative","scale":{"type":"log","domain":[1e-16,1e-10],"nice":false},"axis":null},"y2":{"datum":3.55e-10}}},
{"data":{"name":"p1"},"mark":{"type":"line","clip":true,"strokeWidth":1.6},
"encoding":{
"x":{"field":"l","type":"quantitative","scale":{"type":"log","domain":[1,2500],"nice":false},"axis":{"orient":"bottom","values":[1,10,100,1000],"format":"d","ticks":false,"tickSize":0,"labelPadding":6,"labelFontSize":15,"labelFontWeight":"bold","labelFlush":false,"labelOverlap":false,"title":"ℓ","titleFontSize":14,"titleFontStyle":"italic","titleFontWeight":"bold","titlePadding":0}},
"y":{"field":"v","type":"quantitative","scale":{"type":"log","domain":[1e-16,1e-10],"nice":false},"axis":{"orient":"left","values":[1e-16,1e-15,1e-14,1e-13,1e-12,1e-11,1e-10],"ticks":false,"tickSize":0,"labelPadding":7,"labelFontSize":16,"labelFlush":false,"labelOverlap":false,"labelExpr":"datum.value < 2e-16 ? '10⁻¹⁶' : datum.value < 2e-15 ? '10⁻¹⁵' : datum.value < 2e-14 ? '10⁻¹⁴' : datum.value < 2e-13 ? '10⁻¹³' : datum.value < 2e-12 ? '10⁻¹²' : datum.value < 2e-11 ? '10⁻¹¹' : '10⁻¹⁰'","title":"ℓ(ℓ+1)Cₗᴱ/2π  [K²]","titleFontSize":13,"titleFontWeight":"normal","titleX":-92,"titleY":152.5,"titleAngle":-90,"titleAlign":"center","titleBaseline":"middle"}},
"color":{"field":"s","type":"nominal","scale":{"domain":["n1","n2","cl","cl2"],"range":["#1a1aff","#1a1aff","#000000","#000000"]},"legend":null},
"strokeDash":{"field":"s","type":"nominal","scale":{"domain":["n1","n2","cl","cl2"],"range":[[2,3],[2,3],[1,0],[6,4]]},"legend":null}}},
{"data":{"values":[]},"mark":"point","encoding":{
"x":{"field":"l","type":"quantitative","scale":{"type":"log","domain":[1,2500],"nice":false},"axis":{"orient":"bottom","values":[2,3,4,5,6,7,8,9,10,20,30,40,50,60,70,80,90,100,200,300,400,500,600,700,800,900,1000,2000],"labels":false,"tickSize":-6,"tickWidth":1.5,"title":null}},
"y":{"field":"v","type":"quantitative","scale":{"type":"log","domain":[1e-16,1e-10],"nice":false},"axis":{"orient":"left","values":[1e-16,1e-15,1e-14,1e-13,1e-12,1e-11,1e-10],"labels":false,"tickSize":-20,"tickWidth":1.5,"title":null}}}},
{"data":{"values":[]},"mark":"point","encoding":{
"x":{"field":"l","type":"quantitative","scale":{"type":"log","domain":[1,2500],"nice":false},"axis":{"orient":"top","values":[2,3,4,5,6,7,8,9,10,20,30,40,50,60,70,80,90,100,200,300,400,500,600,700,800,900,1000,2000],"labels":false,"tickSize":-6,"tickWidth":1.5,"title":null}},
"y":{"field":"v","type":"quantitative","scale":{"type":"log","domain":[1e-16,1e-10],"nice":false},"axis":{"orient":"left","values":[2e-16,3e-16,4e-16,5e-16,6e-16,7e-16,8e-16,9e-16,2e-15,3e-15,4e-15,5e-15,6e-15,7e-15,8e-15,9e-15,2e-14,3e-14,4e-14,5e-14,6e-14,7e-14,8e-14,9e-14,2e-13,3e-13,4e-13,5e-13,6e-13,7e-13,8e-13,9e-13,2e-12,3e-12,4e-12,5e-12,6e-12,7e-12,8e-12,9e-12,2e-11,3e-11,4e-11,5e-11,6e-11,7e-11,8e-11,9e-11],"labels":false,"tickSize":-10,"tickWidth":1.5,"title":null}}}},
{"data":{"values":[]},"mark":"point","encoding":{
"x":{"field":"l","type":"quantitative","scale":{"type":"log","domain":[1,2500],"nice":false},"axis":null},
"y":{"field":"v","type":"quantitative","scale":{"type":"log","domain":[1e-16,1e-10],"nice":false},"axis":{"orient":"right","values":[1e-16,1e-15,1e-14,1e-13,1e-12,1e-11,1e-10],"labels":false,"tickSize":-20,"tickWidth":1.5,"title":null}}}},
{"data":{"values":[]},"mark":"point","encoding":{
"x":{"field":"l","type":"quantitative","scale":{"type":"log","domain":[1,2500],"nice":false},"axis":null},
"y":{"field":"v","type":"quantitative","scale":{"type":"log","domain":[1e-16,1e-10],"nice":false},"axis":{"orient":"right","values":[2e-16,3e-16,4e-16,5e-16,6e-16,7e-16,8e-16,9e-16,2e-15,3e-15,4e-15,5e-15,6e-15,7e-15,8e-15,9e-15,2e-14,3e-14,4e-14,5e-14,6e-14,7e-14,8e-14,9e-14,2e-13,3e-13,4e-13,5e-13,6e-13,7e-13,8e-13,9e-13,2e-12,3e-12,4e-12,5e-12,6e-12,7e-12,8e-12,9e-12,2e-11,3e-11,4e-11,5e-11,6e-11,7e-11,8e-11,9e-11],"labels":false,"tickSize":-10,"tickWidth":1.5,"title":null}}}}
]
},
{
"width":923,"height":305,
"resolve":{"axis":{"x":"independent","y":"independent"}},
"layer":[
{"data":{"name":"p2"},"mark":{"type":"line","clip":true,"strokeWidth":1.6},
"encoding":{
"x":{"field":"l","type":"quantitative","scale":{"type":"log","domain":[1,2500],"nice":false},"axis":{"orient":"bottom","values":[1,10,100,1000],"format":"d","ticks":false,"tickSize":0,"labelPadding":6,"labelFontSize":15,"labelFontWeight":"bold","labelFlush":false,"labelOverlap":false,"title":"ℓ","titleFontSize":14,"titleFontStyle":"italic","titleFontWeight":"bold","titlePadding":0}},
"y":{"field":"v","type":"quantitative","scale":{"type":"log","domain":[1e-16,1e-10],"nice":false},"axis":{"orient":"left","values":[1e-16,1e-15,1e-14,1e-13,1e-12,1e-11,1e-10],"ticks":false,"tickSize":0,"labelPadding":7,"labelFontSize":16,"labelFlush":false,"labelOverlap":false,"labelExpr":"datum.value < 2e-16 ? '10⁻¹⁶' : datum.value < 2e-15 ? '10⁻¹⁵' : datum.value < 2e-14 ? '10⁻¹⁴' : datum.value < 2e-13 ? '10⁻¹³' : datum.value < 2e-12 ? '10⁻¹²' : datum.value < 2e-11 ? '10⁻¹¹' : '10⁻¹⁰'","title":"ℓ(ℓ+1)Cₗᴮ/2π  [K²]","titleFontSize":13,"titleFontWeight":"normal","titleX":-92,"titleY":152.5,"titleAngle":-90,"titleAlign":"center","titleBaseline":"middle"}},
"color":{"field":"s","type":"nominal","scale":{"domain":["n1","n2","cl","cl2"],"range":["#1a1aff","#1a1aff","#000000","#000000"]},"legend":null},
"strokeDash":{"field":"s","type":"nominal","scale":{"domain":["n1","n2","cl","cl2"],"range":[[2,3],[2,3],[1,0],[6,4]]},"legend":null}}},
{"data":{"values":[]},"mark":"point","encoding":{
"x":{"field":"l","type":"quantitative","scale":{"type":"log","domain":[1,2500],"nice":false},"axis":{"orient":"bottom","values":[2,3,4,5,6,7,8,9,10,20,30,40,50,60,70,80,90,100,200,300,400,500,600,700,800,900,1000,2000],"labels":false,"tickSize":-6,"tickWidth":1.5,"title":null}},
"y":{"field":"v","type":"quantitative","scale":{"type":"log","domain":[1e-16,1e-10],"nice":false},"axis":{"orient":"left","values":[1e-16,1e-15,1e-14,1e-13,1e-12,1e-11,1e-10],"labels":false,"tickSize":-20,"tickWidth":1.5,"title":null}}}},
{"data":{"values":[]},"mark":"point","encoding":{
"x":{"field":"l","type":"quantitative","scale":{"type":"log","domain":[1,2500],"nice":false},"axis":{"orient":"top","values":[2,3,4,5,6,7,8,9,10,20,30,40,50,60,70,80,90,100,200,300,400,500,600,700,800,900,1000,2000],"labels":false,"tickSize":-6,"tickWidth":1.5,"title":null}},
"y":{"field":"v","type":"quantitative","scale":{"type":"log","domain":[1e-16,1e-10],"nice":false},"axis":{"orient":"left","values":[2e-16,3e-16,4e-16,5e-16,6e-16,7e-16,8e-16,9e-16,2e-15,3e-15,4e-15,5e-15,6e-15,7e-15,8e-15,9e-15,2e-14,3e-14,4e-14,5e-14,6e-14,7e-14,8e-14,9e-14,2e-13,3e-13,4e-13,5e-13,6e-13,7e-13,8e-13,9e-13,2e-12,3e-12,4e-12,5e-12,6e-12,7e-12,8e-12,9e-12,2e-11,3e-11,4e-11,5e-11,6e-11,7e-11,8e-11,9e-11],"labels":false,"tickSize":-10,"tickWidth":1.5,"title":null}}}},
{"data":{"values":[]},"mark":"point","encoding":{
"x":{"field":"l","type":"quantitative","scale":{"type":"log","domain":[1,2500],"nice":false},"axis":null},
"y":{"field":"v","type":"quantitative","scale":{"type":"log","domain":[1e-16,1e-10],"nice":false},"axis":{"orient":"right","values":[1e-16,1e-15,1e-14,1e-13,1e-12,1e-11,1e-10],"labels":false,"tickSize":-20,"tickWidth":1.5,"title":null}}}},
{"data":{"values":[]},"mark":"point","encoding":{
"x":{"field":"l","type":"quantitative","scale":{"type":"log","domain":[1,2500],"nice":false},"axis":null},
"y":{"field":"v","type":"quantitative","scale":{"type":"log","domain":[1e-16,1e-10],"nice":false},"axis":{"orient":"right","values":[2e-16,3e-16,4e-16,5e-16,6e-16,7e-16,8e-16,9e-16,2e-15,3e-15,4e-15,5e-15,6e-15,7e-15,8e-15,9e-15,2e-14,3e-14,4e-14,5e-14,6e-14,7e-14,8e-14,9e-14,2e-13,3e-13,4e-13,5e-13,6e-13,7e-13,8e-13,9e-13,2e-12,3e-12,4e-12,5e-12,6e-12,7e-12,8e-12,9e-12,2e-11,3e-11,4e-11,5e-11,6e-11,7e-11,8e-11,9e-11],"labels":false,"tickSize":-10,"tickWidth":1.5,"title":null}}}}
]
},
{
"width":923,"height":305,
"resolve":{"axis":{"x":"independent","y":"independent"}},
"layer":[
{"data":{"name":"p3"},"mark":{"type":"line","clip":true,"strokeWidth":1.8},
"encoding":{
"x":{"field":"l","type":"quantitative","scale":{"type":"log","domain":[1,2500],"nice":false},"axis":{"orient":"bottom","values":[1,10,100,1000],"format":"d","ticks":false,"tickSize":0,"labelPadding":6,"labelFontSize":15,"labelFontWeight":"bold","labelFlush":false,"labelOverlap":false,"title":"ℓ","titleFontSize":14,"titleFontStyle":"italic","titleFontWeight":"bold","titlePadding":0}},
"y":{"field":"v","type":"quantitative","scale":{"type":"log","domain":[1e-14,1e-10],"nice":false},"axis":{"orient":"left","values":[1e-14,1e-13,1e-12,1e-11,1e-10],"ticks":false,"tickSize":0,"labelPadding":7,"labelFontSize":16,"labelFlush":false,"labelOverlap":false,"labelExpr":"datum.value < 2e-14 ? '10⁻¹⁴' : datum.value < 2e-13 ? '10⁻¹³' : datum.value < 2e-12 ? '10⁻¹²' : datum.value < 2e-11 ? '10⁻¹¹' : '10⁻¹⁰'","title":"ℓ(ℓ+1)|Cₗᵀᴱ|/2π  [K²]","titleFontSize":13,"titleFontWeight":"normal","titleX":-92,"titleY":152.5,"titleAngle":-90,"titleAlign":"center","titleBaseline":"middle"}},
"color":{"field":"s","type":"nominal","scale":{"domain":["n1","n2","cl","cl2"],"range":["#1a1aff","#1a1aff","#000000","#000000"]},"legend":null},
"strokeDash":{"field":"s","type":"nominal","scale":{"domain":["n1","n2","cl","cl2"],"range":[[2,2],[2,2],[1,0],[6,4]]},"legend":null}}},
{"data":{"values":[]},"mark":"point","encoding":{
"x":{"field":"l","type":"quantitative","scale":{"type":"log","domain":[1,2500],"nice":false},"axis":{"orient":"bottom","values":[2,3,4,5,6,7,8,9,10,20,30,40,50,60,70,80,90,100,200,300,400,500,600,700,800,900,1000,2000],"labels":false,"tickSize":-6,"tickWidth":1.5,"title":null}},
"y":{"field":"v","type":"quantitative","scale":{"type":"log","domain":[1e-14,1e-10],"nice":false},"axis":{"orient":"left","values":[1e-14,1e-13,1e-12,1e-11,1e-10],"labels":false,"tickSize":-20,"tickWidth":1.5,"title":null}}}},
{"data":{"values":[]},"mark":"point","encoding":{
"x":{"field":"l","type":"quantitative","scale":{"type":"log","domain":[1,2500],"nice":false},"axis":{"orient":"top","values":[2,3,4,5,6,7,8,9,10,20,30,40,50,60,70,80,90,100,200,300,400,500,600,700,800,900,1000,2000],"labels":false,"tickSize":-6,"tickWidth":1.5,"title":null}},
"y":{"field":"v","type":"quantitative","scale":{"type":"log","domain":[1e-14,1e-10],"nice":false},"axis":{"orient":"left","values":[2e-14,3e-14,4e-14,5e-14,6e-14,7e-14,8e-14,9e-14,2e-13,3e-13,4e-13,5e-13,6e-13,7e-13,8e-13,9e-13,2e-12,3e-12,4e-12,5e-12,6e-12,7e-12,8e-12,9e-12,2e-11,3e-11,4e-11,5e-11,6e-11,7e-11,8e-11,9e-11],"labels":false,"tickSize":-10,"tickWidth":1.5,"title":null}}}},
{"data":{"values":[]},"mark":"point","encoding":{
"x":{"field":"l","type":"quantitative","scale":{"type":"log","domain":[1,2500],"nice":false},"axis":null},
"y":{"field":"v","type":"quantitative","scale":{"type":"log","domain":[1e-14,1e-10],"nice":false},"axis":{"orient":"right","values":[1e-14,1e-13,1e-12,1e-11,1e-10],"labels":false,"tickSize":-20,"tickWidth":1.5,"title":null}}}},
{"data":{"values":[]},"mark":"point","encoding":{
"x":{"field":"l","type":"quantitative","scale":{"type":"log","domain":[1,2500],"nice":false},"axis":null},
"y":{"field":"v","type":"quantitative","scale":{"type":"log","domain":[1e-14,1e-10],"nice":false},"axis":{"orient":"right","values":[2e-14,3e-14,4e-14,5e-14,6e-14,7e-14,8e-14,9e-14,2e-13,3e-13,4e-13,5e-13,6e-13,7e-13,8e-13,9e-13,2e-12,3e-12,4e-12,5e-12,6e-12,7e-12,8e-12,9e-12,2e-11,3e-11,4e-11,5e-11,6e-11,7e-11,8e-11,9e-11],"labels":false,"tickSize":-10,"tickWidth":1.5,"title":null}}}},
{"data":{"values":[{}]},"mark":{"type":"point","shape":"M -1 0 C -1 -0.1929 -0.5523 -0.3493 0 -0.3493 C 0.5523 -0.3493 1 -0.1929 1 0 C 1 0.1929 0.5523 0.3493 0 0.3493 C -0.5523 0.3493 -1 0.1929 -1 0 Z","size":1887876,"filled":false,"stroke":"#cc0000","strokeWidth":19,"opacity":1,"clip":false},
"encoding":{"x":{"datum":55.1,"type":"quantitative","scale":{"type":"log","domain":[1,2500],"nice":false},"axis":null},"y":{"datum":5.68e-8,"type":"quantitative","scale":{"type":"log","domain":[1e-14,1e-10],"nice":false},"axis":null}}}
]
}
]
}
